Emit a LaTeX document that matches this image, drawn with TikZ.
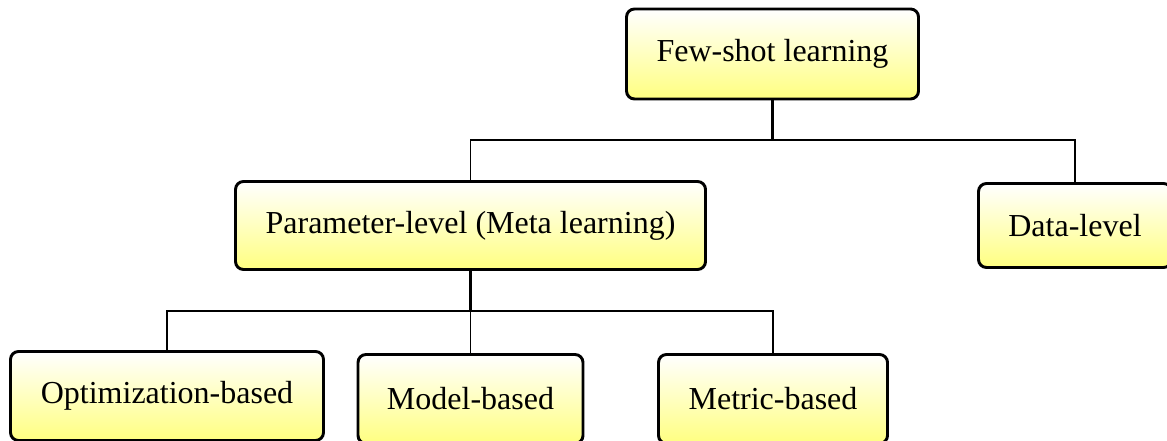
\documentclass[tikz,border=0pt]{standalone}
\usepackage{fontspec}
\setmainfont{Liberation Serif}
\definecolor{boxyellow}{RGB}{255,255,128}
\definecolor{boxpale}{RGB}{255,255,222}
\begin{document}
\begin{tikzpicture}[x=0.75pt,y=-0.75pt,
  box/.style={draw=black, line width=2.2pt, rounded corners=6pt,
    top color=white, middle color=boxpale, bottom color=boxyellow,
    font=\fontsize{24}{29}\selectfont, inner sep=0pt, align=center},
  link/.style={draw=black, line width=1.2pt},
  stem/.style={draw=black, line width=1.6pt}]
\useasboundingbox (0,0) rectangle (1167,441);
\clip (0,0) rectangle (1167,441);

% tree nodes
\node[box, minimum width=219pt, minimum height=67.5pt] (few) at (772.5,54) {Few-shot learning};
\node[box, minimum width=352.5pt, minimum height=66pt] (param) at (470.5,225.5) {Parameter-level (Meta learning)};
\node[box, minimum width=144.75pt, minimum height=63pt] (data) at (1075,225.5) {Data-level};
\node[box, minimum width=234.75pt, minimum height=66.75pt] (opt) at (167,396) {Optimization-based};
\node[box, minimum width=168.75pt, minimum height=66.75pt] (model) at (470.5,399) {Model-based};
\node[box, minimum width=171.75pt, minimum height=66.75pt] (metric) at (773,399) {Metric-based};

% junction points of the elbow connectors
\coordinate (j1) at (772.5,140);
\coordinate (j2) at (470.5,311);

\draw[stem] (few.south) -- (j1);
\draw[link] (param.north) |- (j1) -| (data.north);
\draw[stem] (param.south) -- (j2);
\draw[link] (j2) -- (model.north);
\draw[link] (opt.north) |- (j2) -| (metric.north);
\end{tikzpicture}
\end{document}
